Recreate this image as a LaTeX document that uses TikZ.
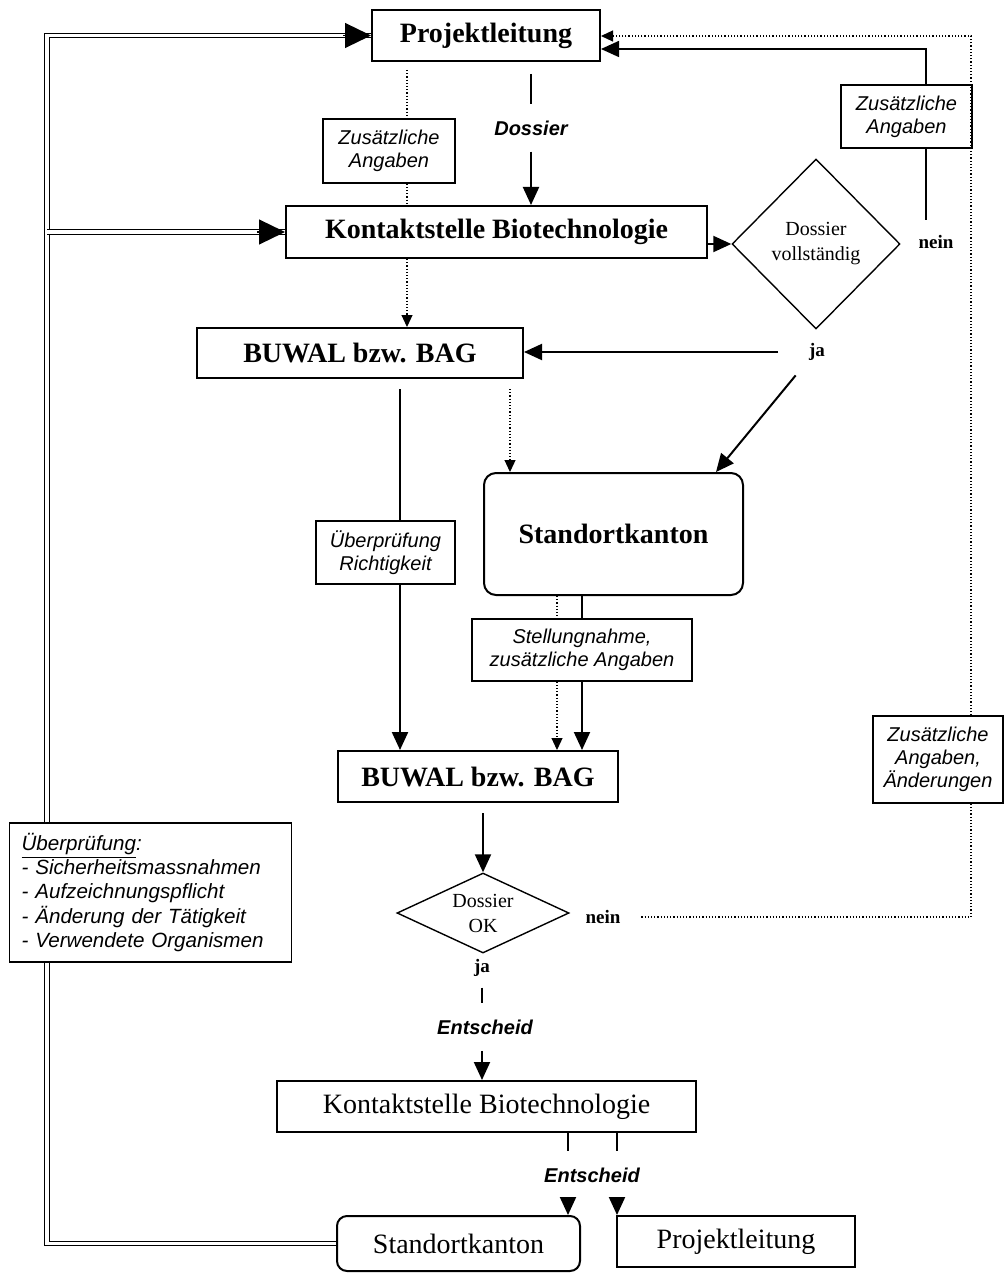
\documentclass[tikz,border=0pt]{standalone}
\usepackage{fontspec}
\setmainfont{Liberation Serif}
\setsansfont{Liberation Sans}
\usetikzlibrary{arrows.meta,positioning,shapes.geometric}

\begin{document}
\begin{tikzpicture}[
    x=0.5pt, y=-0.5pt,
    box/.style={draw, line width=1pt, fill=white, inner sep=0pt,
      font=\fontsize{14}{16}\selectfont\bfseries},
    roundbox/.style={box, rounded corners=6pt},
    decision/.style={draw, diamond, line width=0.7pt, inner sep=0pt,
      align=center, font=\fontsize{10}{12.5}\selectfont},
    note/.style={draw, line width=0.6pt, fill=white, align=center,
      inner sep=0pt, font=\fontsize{10}{11.5}\selectfont\sffamily\itshape},
    lbl/.style={inner xsep=2pt, inner ysep=8pt,
      font=\fontsize{10}{12}\selectfont\sffamily\bfseries\itshape},
    yesno/.style={font=\fontsize{9.5}{11}\selectfont\bfseries},
    plain/.style={line width=0.8pt},
    arrow/.style={-{Triangle[length=9pt,width=8pt]}, line width=1pt},
    dots/.style={densely dotted, line width=0.6pt},
    dotarrow/.style={dots, -{Triangle[length=6pt,width=5.5pt]}},
    dbl/.style={double, double distance=1.6pt, line width=0.6pt},
    bigtip/.style={-{Triangle[length=13pt,width=12.5pt]}, line width=0.6pt}
  ]
  \useasboundingbox (0,0) rectangle (1004,1273);

  % upper part
  \node[box, minimum width=114pt, minimum height=25.5pt] (pl) at (486,35.5) {Projektleitung};
  \node[note, minimum width=66pt, minimum height=32pt] (zal) at (389,151) {Zusätzliche\\Angaben};
  \node[lbl] (dos) at (531,128) {Dossier};
  \node[box, minimum width=210.5pt, minimum height=26pt] (kb) at (496.5,232)
    {Kontaktstelle Biotechnologie};
  \node[decision, minimum width=84pt, minimum height=85pt] (dv) at (816,244) {Dossier\\vollständig};
  \node[note, minimum width=65.5pt, minimum height=31.5pt] (zar) at (906.5,116.5) {Zusätzliche\\Angaben};
  \node[yesno] (nein1) at (936,242) {nein};
  \node[yesno] (ja1) at (817,352) {ja};
  \node[box, minimum width=163pt, minimum height=25pt] (bw1) at (360,353) {BUWAL bzw. BAG};

  % middle part
  \node[roundbox, minimum width=129.5pt, minimum height=61pt] (sk1) at (613.5,534) {Standortkanton};
  \node[note, minimum width=69.5pt, minimum height=31.5pt] (ur) at (385.5,552.5) {Überprüfung\\Richtigkeit};
  \node[note, minimum width=110pt, minimum height=31pt] (sn) at (582,650)
    {Stellungnahme,\\zusätzliche Angaben};
  \node[box, minimum width=140pt, minimum height=25.5pt] (bw2) at (478,776.5) {BUWAL bzw. BAG};
  \node[note, minimum width=65pt, minimum height=43.5pt] (zaa) at (938,759.5)
    {Zusätzliche\\Angaben,\\Änderungen};
  \node[note, align=left, anchor=west, text width=129pt, inner xsep=6pt,
    minimum height=69.5pt, font=\fontsize{10.3}{12.2}\selectfont\sffamily\itshape] (ub) at (9,892.5)
    {\underline{Überprüfung}:\\
     - Sicherheitsmassnahmen\\
     - Aufzeichnungspflicht\\
     - Änderung der Tätigkeit\\
     - Verwendete Organismen};
  \node[decision, aspect=2.15, minimum width=86pt, minimum height=40pt] (dok) at (483,913) {Dossier\\OK};
  \node[yesno] (nein2) at (603,917) {nein};
  \node[yesno] (ja2) at (482,968) {ja};

  % lower part
  \node[lbl] (ent1) at (485,1027) {Entscheid};
  \node[box, font=\fontsize{14}{16}\selectfont, minimum width=209.5pt, minimum height=25.5pt]
    (kb2) at (486.5,1106.5) {Kontaktstelle Biotechnologie};
  \node[lbl] (ent2) at (592,1175) {Entscheid};
  \node[roundbox, rounded corners=5pt, font=\fontsize{14}{16}\selectfont,
    minimum width=121.5pt, minimum height=27.5pt] (sk2) at (458.5,1243.5) {Standortkanton};
  \node[box, font=\fontsize{14}{16}\selectfont, minimum width=119pt, minimum height=25.5pt]
    (pl2) at (736,1241.5) {Projektleitung};

  \coordinate (dlt) at (47,35.5);
  \coordinate (dlb) at (47,1243.5);
  \coordinate (zl) at (407,0);
  \coordinate (uv) at (400,0);
  \coordinate (sv) at (510,0);
  \coordinate (sd) at (557,0);
  \coordinate (nr) at (926,220);
  \coordinate (zt) at (926,49);
  \coordinate (dr) at (971,36);
  \coordinate (e1) at (568,0);
  \coordinate (e2) at (617,0);

  % double line back to the top
  \draw[dbl] (sk2.west) -- (dlb) -- (ub.south -| dlb);
  \draw[dbl] (ub.north -| dlb) -- (dlt) -- (pl.west);
  \draw[dbl] (dlb |- kb.west) -- (kb.west);
  \draw[bigtip] ([xshift=-14pt]pl.west) -- (pl.west);
  \draw[bigtip] ([xshift=-14pt]kb.west) -- (kb.west);

  \draw[dots, shorten <=4pt] (pl.south -| zl) -- (zal.north -| zl);
  \draw[dots] (zal.south -| zl) -- (kb.north -| zl);
  \draw[dotarrow] (kb.south -| zl) -- (bw1.north -| zl);
  \draw[plain, line width=1pt, shorten <=6pt] (pl.south -| dos) -- (dos.north);
  \draw[arrow] (dos.south) -- (kb.north -| dos);
  \draw[arrow] (kb.east |- dv.west) -- (dv.west);
  \draw[plain] (nr) -- (nr |- zar.south);
  \draw[arrow, line width=0.8pt] (nr |- zar.north) -- (zt) -- (zt -| pl.east);
  \draw[arrow, shorten <=12pt] (ja1.west) -- (ja1.west -| bw1.east);
  \draw[arrow, shorten <=5pt] (ja1.south west) -- ([xshift=-14pt]sk1.north east);
  \draw[dotarrow, shorten <=5pt] (bw1.south -| sv) -- (sk1.north -| sv);
  \draw[plain, line width=1.1pt, shorten <=5pt] (bw1.south -| uv) -- (ur.north -| uv);
  \draw[arrow, line width=1.1pt] (ur.south -| uv) -- (bw2.north -| uv);
  \draw[dots] (sk1.south -| sd) -- (sn.north -| sd);
  \draw[dotarrow] (sn.south -| sd) -- (bw2.north -| sd);
  \draw[plain, line width=1pt] (sk1.south -| sn) -- (sn.north);
  \draw[arrow] (sn.south) -- (bw2.north -| sn);
  \draw[arrow, shorten <=5pt] (bw2.south -| dok.north) -- (dok.north);
  \draw[dots, shorten <=7pt] (nein2.east) -- (nein2.east -| dr) -- (zaa.south -| dr);
  \draw[dotarrow] (zaa.north -| dr) -- (dr) -- (dr -| pl.east);
  \draw[plain, line width=1pt, shorten <=2pt] (ja2.south) -- (ent1.north -| ja2);
  \draw[arrow] (ent1.south -| ja2) -- (kb2.north -| ja2);
  \draw[plain] (kb2.south -| e1) -- (ent2.north -| e1);
  \draw[plain] (kb2.south -| e2) -- (ent2.north -| e2);
  \draw[arrow] (ent2.south -| e1) -- (sk2.north -| e1);
  \draw[arrow] (ent2.south -| e2) -- (pl2.north -| e2);
\end{tikzpicture}
\end{document}
